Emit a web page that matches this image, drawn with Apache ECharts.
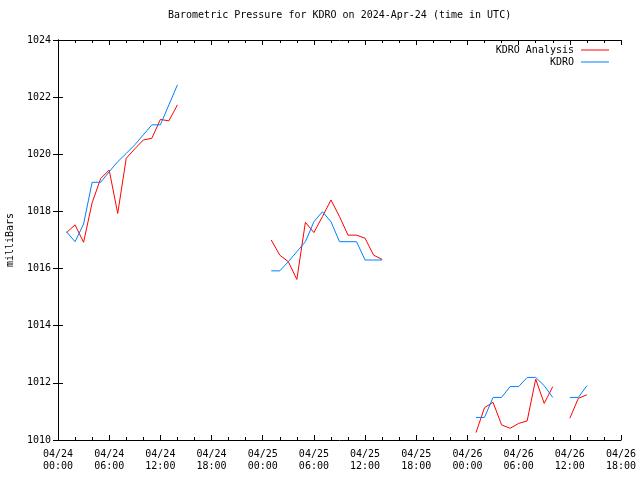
<!DOCTYPE html>
<html>
<head>
<meta charset="utf-8">
<script src="https://cdn.jsdelivr.net/npm/echarts@6/dist/echarts.min.js"></script>
<style>html,body{margin:0;padding:0;background:#fff}#c{width:640px;height:480px}</style>
</head>
<body>
<div id="c"></div>
<script>
const titleText = 'Barometric Pressure for KDRO on 2024-Apr-24 (time in UTC)';
const yAxisName = 'milliBars';
const seriesNames = ['KDRO Analysis', 'KDRO'];
// hours since 2024-04-24 00:00 UTC
const hours = [1,2,3,4,5,6,7,8,9,10,11,12,13,14,15,16,17,18,19,20,21,22,23,24,25,26,27,28,29,30,31,32,33,34,35,36,37,38,39,40,41,42,43,44,45,46,47,48,49,50,51,52,53,54,55,56,57,58,59,60,61,62];
const analysisValues = [
  1017.26,1017.53,1016.92,1018.3,1019.15,1019.45,1017.93,1019.86,1020.19,1020.5,1020.56,1021.22,1021.17,1021.73,
  null,null,null,null,null,null,null,null,null,null,
  1017.0,1016.47,1016.24,1015.62,1017.62,1017.26,1017.82,1018.4,1017.82,1017.17,1017.17,1017.06,1016.47,1016.32,
  null,null,null,null,null,null,null,null,null,null,
  1010.26,1011.13,1011.32,1010.53,1010.41,1010.58,1010.67,1012.13,1011.28,1011.87,
  null,
  1010.76,1011.46,1011.58
];
const observedValues = [
  1017.29,1016.94,1017.56,1019.02,1019.02,1019.39,1019.74,1020.03,1020.33,1020.68,1021.03,1021.03,1021.73,1022.43,
  null,null,null,null,null,null,null,null,null,null,
  1015.92,1015.92,1016.24,1016.59,1016.94,1017.64,1017.99,1017.64,1016.94,1016.94,1016.94,1016.3,1016.3,1016.3,
  null,null,null,null,null,null,null,null,null,null,
  1010.79,1010.79,1011.49,1011.49,1011.87,1011.87,1012.19,1012.19,1011.9,1011.49,
  null,
  1011.49,1011.49,1011.9
];
const xTickHours = [0,6,12,18,24,30,36,42,48,54,60,66];
const xTickLabels = ['04/24\n00:00','04/24\n06:00','04/24\n12:00','04/24\n18:00','04/25\n00:00','04/25\n06:00','04/25\n12:00','04/25\n18:00','04/26\n00:00','04/26\n06:00','04/26\n12:00','04/26\n18:00'];
const yTicks = [1010,1012,1014,1016,1018,1020,1022,1024];

const FONT = 'DejaVu Sans Mono';
const chart = echarts.init(document.getElementById('c'), null, {renderer: 'canvas'});
const pair = vals => hours.map((h, i) => [h, vals[i]]);
const axisLine = {show: true, lineStyle: {color: '#000', width: 1}};
chart.setOption({
  animation: false,
  backgroundColor: '#fff',
  title: {text: titleText, left: 168, top: 10, padding: 0,
    textStyle: {fontFamily: FONT, fontSize: 10, fontWeight: 'normal', color: '#000'}},
  legend: {
    orient: 'vertical', right: 31, top: 45, align: 'right', padding: 0,
    icon: 'rect', itemWidth: 28, itemHeight: 1, itemGap: 2,
    textStyle: {fontFamily: FONT, fontSize: 10, color: '#000', padding: [0, 2, 0, 0]},
    data: seriesNames
  },
  grid: {left: 58, right: 19, top: 40, bottom: 40, outerBoundsMode: 'none', containLabel: false},
  xAxis: [{
    type: 'value', min: 0, max: 66, interval: 6,
    axisLine: axisLine,
    axisTick: {show: true, inside: true, length: 5, lineStyle: {color: '#000'}},
    minorTick: {show: true, splitNumber: 3, length: 3, lineStyle: {color: '#000'}},
    splitLine: {show: false},
    axisLabel: {
      fontFamily: FONT, fontSize: 10, color: '#000', margin: 8, lineHeight: 12,
      formatter: v => { const i = xTickHours.indexOf(v); return i >= 0 ? xTickLabels[i] : ''; }
    }
  }, {
    type: 'value', position: 'top', min: 0, max: 66, interval: 6,
    axisLine: axisLine,
    axisTick: {show: true, inside: true, length: 5, lineStyle: {color: '#000'}},
    minorTick: {show: true, splitNumber: 3, length: 3, lineStyle: {color: '#000'}},
    splitLine: {show: false}, axisLabel: {show: false}
  }],
  yAxis: [{
    type: 'value', min: yTicks[0], max: yTicks[yTicks.length - 1], interval: 2,
    name: yAxisName, nameLocation: 'middle', nameGap: 43, nameRotate: 90,
    nameTextStyle: {fontFamily: FONT, fontSize: 10, color: '#000'},
    axisLine: axisLine,
    axisTick: {show: true, inside: true, length: 5, lineStyle: {color: '#000'}},
    splitLine: {show: false},
    axisLabel: {fontFamily: FONT, fontSize: 10, color: '#000', margin: 7, formatter: v => String(v)}
  }, {
    type: 'value', position: 'right', min: yTicks[0], max: yTicks[yTicks.length - 1], interval: 2,
    axisLine: axisLine,
    axisTick: {show: true, inside: true, length: 5, lineStyle: {color: '#000'}},
    splitLine: {show: false}, axisLabel: {show: false}
  }],
  series: [{
    name: seriesNames[0], type: 'line', data: pair(analysisValues),
    symbol: 'none', connectNulls: false,
    lineStyle: {color: '#ff0000', width: 1}, itemStyle: {color: '#ff0000'}
  }, {
    name: seriesNames[1], type: 'line', data: pair(observedValues),
    symbol: 'none', connectNulls: false,
    lineStyle: {color: '#0080ff', width: 1}, itemStyle: {color: '#0080ff'}
  }]
});
</script>
</body>
</html>
